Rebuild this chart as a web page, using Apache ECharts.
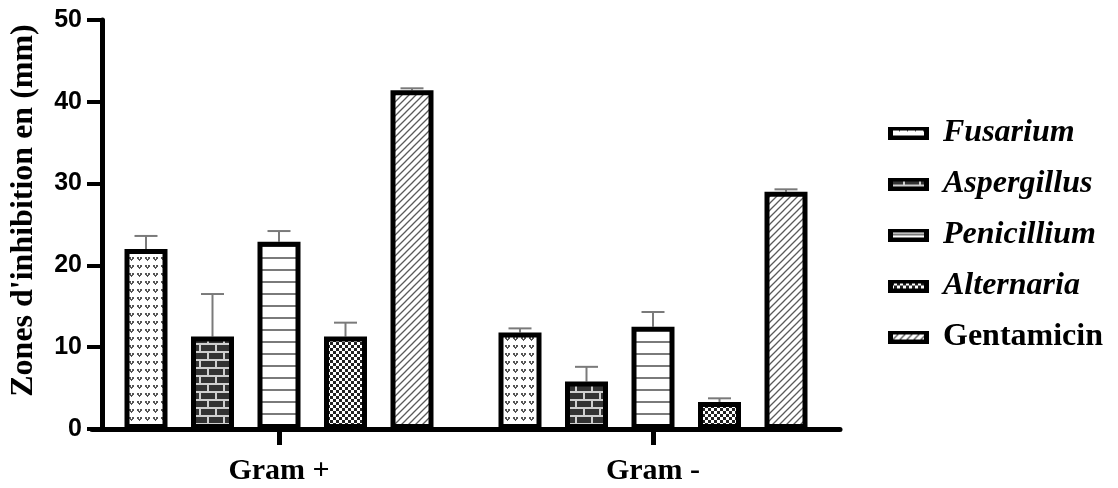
<!DOCTYPE html>
<html>
<head>
<meta charset="utf-8">
<script src="https://cdn.jsdelivr.net/npm/echarts@6/dist/echarts.min.js"></script>
<style>
html,body{margin:0;padding:0;background:#fff;}
#chart{width:1118px;height:488px;}
</style>
</head>
<body>
<div id="chart"></div>
<script>
// ---- data ----
const categories = ['Gram +', 'Gram -'];
const seriesNames = ['Fusarium', 'Aspergillus', 'Penicillium', 'Alternaria', 'Gentamicin'];
const fusarium = [22.0, 11.8];
const aspergillus = [11.3, 5.8];
const penicillium = [22.9, 12.5];
const alternaria = [11.3, 3.3];
const gentamicin = [41.4, 29.0];
const fusariumErr = [1.6, 0.5];
const aspergillusErr = [5.2, 1.8];
const penicilliumErr = [1.3, 1.8];
const alternariaErr = [1.7, 0.45];
const gentamicinErr = [0.25, 0.3];
const yTicks = [0, 10, 20, 30, 40, 50];

const values = [fusarium, aspergillus, penicillium, alternaria, gentamicin];
const errors = [fusariumErr, aspergillusErr, penicilliumErr, alternariaErr, gentamicinErr];

// ---- patterns ----
function tileCanvas(w, h, draw) {
  const c = document.createElement('canvas');
  c.width = w; c.height = h;
  const g = c.getContext('2d');
  g.fillStyle = '#fff';
  g.fillRect(0, 0, w, h);
  draw(g);
  return c;
}
const tiles = [
  tileCanvas(8, 8, g => {
    g.fillStyle = '#555';
    g.fillRect(1, 1, 2, 2); g.fillRect(4, 1, 2, 2);
    g.fillRect(2, 3, 3, 1); g.fillRect(3, 4, 1, 1);
  }),
  tileCanvas(16, 16, g => {
    g.fillStyle = '#cfcfcf'; g.fillRect(0, 0, 16, 16);
    g.fillStyle = '#333';
    g.fillRect(1, 1, 14, 6);
    g.fillRect(0, 9, 7, 6); g.fillRect(9, 9, 7, 6);
  }),
  tileCanvas(4, 12, g => {
    g.fillStyle = '#7a7a7a'; g.fillRect(0, 5, 4, 2);
  }),
  tileCanvas(6, 6, g => {
    g.fillStyle = '#222';
    g.fillRect(0, 0, 3, 3); g.fillRect(3, 3, 3, 3);
  }),
  tileCanvas(7, 7, g => {
    g.strokeStyle = '#5a5a5a'; g.lineWidth = 1.3;
    g.beginPath();
    g.moveTo(0, 7); g.lineTo(7, 0);
    g.moveTo(-1, 1); g.lineTo(1, -1);
    g.moveTo(6, 8); g.lineTo(8, 6);
    g.stroke();
  })
];
const patterns = tiles.map(t => ({ image: t, repeat: 'repeat' }));

// legend icons: black frame with a thin pattern strip
function legendIcon(t) {
  const c = document.createElement('canvas');
  c.width = 41; c.height = 13;
  const g = c.getContext('2d');
  g.fillStyle = '#000';
  g.fillRect(0, 0, 41, 13);
  g.fillStyle = g.createPattern(t, 'repeat');
  g.fillRect(5, 4, 31, 5);
  return 'image://' + c.toDataURL();
}

const BAR_W = 43;
const STEP = 66.5;
const BAR_GAP = (STEP - BAR_W) / BAR_W;

const barSeries = seriesNames.map((name, i) => ({
  name: name,
  type: 'bar',
  data: values[i],
  barWidth: BAR_W,
  barGap: (BAR_GAP * 100) + '%',
  z: 3,
  itemStyle: { color: patterns[i], borderColor: '#000', borderWidth: 5 },
  emphasis: { disabled: true }
}));

const errSeries = seriesNames.map((name, i) => ({
  name: name + ' err',
  type: 'custom',
  z: 2,
  silent: true,
  data: categories.map((c, k) => [k, values[i][k], errors[i][k]]),
  renderItem: function (params, api) {
    const base = api.coord([api.value(0), api.value(1)]);
    const top = api.coord([api.value(0), api.value(1) + api.value(2)]);
    const x = base[0] + (i - 2) * STEP;
    const st = { stroke: '#7a7a7a', lineWidth: 2 };
    return {
      type: 'group',
      children: [
        { type: 'line', shape: { x1: x, y1: base[1], x2: x, y2: top[1] }, style: st },
        { type: 'line', shape: { x1: x - 11.5, y1: top[1], x2: x + 11.5, y2: top[1] }, style: st }
      ]
    };
  }
}));

const chart = echarts.init(document.getElementById('chart'));
chart.setOption({
  backgroundColor: '#fff',
  animation: false,
  grid: { left: 91, right: 278, top: 20, bottom: 59 },
  legend: {
    data: seriesNames.map((n, i) => ({ name: n, icon: legendIcon(tiles[i]) })),
    orient: 'vertical',
    left: 883,
    top: 112,
    itemWidth: 41,
    itemHeight: 13,
    itemGap: 19,
    selectedMode: false,
    formatter: n => n === 'Gentamicin' ? '{n|' + n + '}' : '{i|' + n + '}',
    textStyle: {
      rich: {
        i: { fontFamily: 'Liberation Serif', fontStyle: 'italic', fontWeight: 'bold', fontSize: 32, color: '#000', lineHeight: 30, padding: [0, 0, 0, 9] },
        n: { fontFamily: 'Liberation Serif', fontWeight: 'bold', fontSize: 32, color: '#000', lineHeight: 30, padding: [0, 0, 0, 9] }
      }
    }
  },
  xAxis: {
    type: 'category',
    data: categories,
    axisLine: { lineStyle: { color: '#000', width: 5 } },
    axisTick: { show: true, interval: 0, alignWithLabel: true, length: 16, lineStyle: { color: '#000', width: 5 } },
    axisLabel: { fontFamily: 'Liberation Serif', fontWeight: 'bold', fontSize: 30, color: '#000', margin: 27 }
  },
  yAxis: {
    type: 'value',
    min: 0, max: 50, interval: 10,
    offset: -10,
    name: "Zones d'inhibition en (mm)",
    nameLocation: 'middle',
    nameGap: 62,
    nameTextStyle: { fontFamily: 'Liberation Serif', fontWeight: 'bold', fontSize: 32, color: '#000', padding: [0, 0, 0, 28] },
    splitLine: { show: false },
    axisLine: { show: true, lineStyle: { color: '#000', width: 5 } },
    axisTick: { show: true, length: 15, lineStyle: { color: '#000', width: 4 } },
    axisLabel: {
      fontFamily: 'Liberation Sans', fontWeight: 'bold', fontSize: 25, color: '#000', margin: 20,
      formatter: v => yTicks.indexOf(v) >= 0 ? String(v) : ''
    }
  },
  series: barSeries.concat(errSeries)
});
</script>
</body>
</html>
